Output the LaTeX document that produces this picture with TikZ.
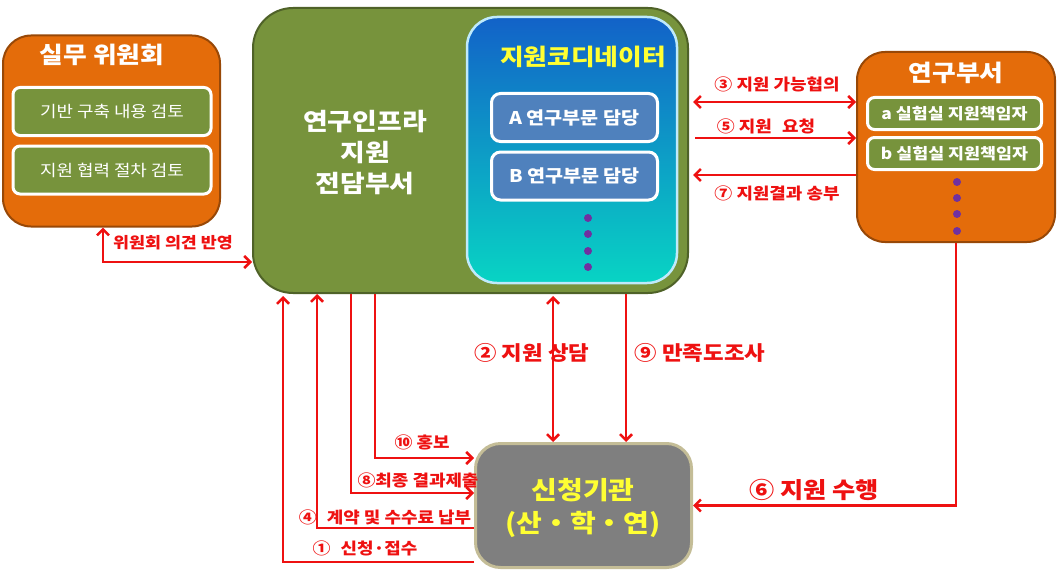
\documentclass[tikz,border=0pt]{standalone}
\usepackage{fontspec}
\setmainfont{Noto Sans CJK KR}[FakeStretch=1.12]
\usetikzlibrary{arrows.meta,calc,positioning}
\definecolor{boxOrange}{HTML}{E46C0A}
\definecolor{edgeOrange}{HTML}{984807}
\definecolor{boxGreen}{HTML}{77933C}
\definecolor{edgeGreen}{HTML}{4F6228}
\definecolor{boxSteel}{HTML}{4F81BD}
\definecolor{boxGray}{HTML}{7F7F7F}
\definecolor{edgeTan}{HTML}{C4BD97}
\definecolor{arrowRed}{HTML}{EE1111}
\definecolor{dotPurple}{HTML}{7030A0}
\definecolor{textYellow}{HTML}{FFFF33}
\definecolor{coordTop}{HTML}{1262C8}
\definecolor{coordMid}{HTML}{1EAEE6}
\definecolor{coordBottom}{HTML}{08D4C4}
\tikzset{
  >={Straight Barb[length=6pt,width=12pt]},
  outerBox/.style={draw=edgeOrange,line width=2pt,fill=boxOrange,rounded corners=28pt},
  itemBox/.style={draw=white,line width=3pt,fill=boxGreen,rounded corners=7pt,text=white},
  coordItem/.style={draw=white,line width=3pt,fill=boxSteel,rounded corners=9pt,text=white,
    font=\fontsize{17.5}{20}\selectfont\bfseries},
  titleText/.style={text=white,font=\fontsize{23}{28}\selectfont\bfseries},
  flowArrow/.style={draw=arrowRed,line width=2.5pt},
  flowLabel/.style={text=arrowRed,font=\fontsize{16}{19}\selectfont\bfseries,inner sep=1pt},
  moreDot/.style={circle,fill=dotPurple,minimum size=8pt,inner sep=0pt},
}

\begin{document}
\begin{tikzpicture}[x=1pt,y=-1pt]
\useasboundingbox (0,0) rectangle (1059,583);

% ===== Working committee =====
\node[outerBox, minimum width=217pt, minimum height=191pt] (committee) at (111.5,131) {};
\node[titleText] (committeeTitle) at (102,55) {실무 위원회};
\node[itemBox, minimum width=198pt, minimum height=48pt, font=\fontsize{16}{19}\selectfont] (reviewA) at (112,111.5) {기반 구축 내용 검토};
\node[itemBox, minimum width=198pt, minimum height=48pt, font=\fontsize{16}{19}\selectfont] (reviewB) at (112,170) {지원 협력 절차 검토};

% ===== Infrastructure support department =====
\node[draw=edgeGreen, line width=2pt, fill=boxGreen, rounded corners=40pt, minimum width=435pt, minimum height=285pt] (infraDept) at (470.5,150.5) {};
\node[text=white, align=center, font=\fontsize{24}{31}\selectfont\bfseries] (infraTitle) at (365,153) {연구인프라\\지원\\전담부서};

% ===== Coordinators =====
\node[draw=white!75!cyan, line width=2.5pt, rounded corners=30pt, top color=coordTop, middle color=coordMid, bottom color=coordBottom, minimum width=210pt, minimum height=266pt] (coordBox) at (572,150) {};
\node[text=textYellow, font=\fontsize{23}{28}\selectfont\bfseries] (coordTitle) at (583,57) {지원코디네이터};
\node[coordItem, minimum width=166pt, minimum height=48pt] (coordA) at (574.5,117.5) {A 연구부문 담당\hspace{12pt}};
\node[coordItem, minimum width=166pt, minimum height=48pt] (coordB) at (574.5,176) {B 연구부문 담당};
\foreach \y [count=\i] in {218,234,251,267} {
  \node[moreDot] (coordDot\i) at (588,\y) {};
}

% ===== Research department =====
\node[outerBox, minimum width=198pt, minimum height=190pt] (labDept) at (956,147) {};
\node[titleText] (labTitle) at (956,73) {연구부서};
\node[itemBox, minimum width=174pt, minimum height=32pt, font=\fontsize{15.5}{18}\selectfont\bfseries] (labA) at (954.5,113.5) {a 실험실 지원책임자};
\node[itemBox, minimum width=174pt, minimum height=32pt, font=\fontsize{15.5}{18}\selectfont\bfseries] (labB) at (954.5,153.5) {b 실험실 지원책임자};
\foreach \y [count=\i] in {182,198,214,231} {
  \node[moreDot] (labDot\i) at (957,\y) {};
}

% ===== Applicant =====
\node[draw=edgeTan, line width=3pt, fill=boxGray, rounded corners=25pt, minimum width=216pt, minimum height=124pt] (applicant) at (583.5,505.5) {};
\node[text=textYellow, align=center, font=\fontsize{25}{33}\selectfont\bfseries] (applicantText) at (583,508) {신청기관\\(산・학・연)};

% ===== Labels =====
\node[flowLabel, font=\fontsize{15.5}{18}\selectfont\bfseries] (lblCommittee) at (173,243) {위원회 의견 반영};
\node[flowLabel] (lbl3) at (777,84) {③ 지원 가능협의};
\node[flowLabel] (lbl5) at (766,126) {⑤ 지원\hspace{6pt} 요청};
\node[flowLabel] (lbl7) at (777,193) {⑦ 지원결과 송부};
\node[flowLabel, font=\fontsize{20}{23}\selectfont\bfseries] (lbl2) at (532,353) {② 지원 상담};
\node[flowLabel, font=\fontsize{20}{23}\selectfont\bfseries] (lbl9) at (700,353) {⑨ 만족도조사};
\node[flowLabel] (lbl10) at (422,442) {⑩ 홍보};
\node[flowLabel] (lbl8) at (418,480) {⑧최종 결과제출};
\node[flowLabel] (lbl4) at (385,517) {④\hspace{6pt} 계약 및 수수료 납부};
\node[flowLabel] (lbl1) at (365,548) {①\hspace{6pt} 신청·접수};
\node[flowLabel, font=\fontsize{22.5}{26}\selectfont\bfseries] (lbl6) at (814,490) {⑥ 지원 수행};

% ===== Connectors =====
\coordinate (xCommittee) at (103,0);
\coordinate (yCommittee) at (0,262);
\draw[flowArrow,<->] (committee.south -| xCommittee) |- (infraDept.west |- yCommittee);

\coordinate (y3) at (0,102);
\coordinate (y5) at (0,138);
\coordinate (y7) at (0,175);
\draw[flowArrow,<->,shorten <=4pt] (infraDept.east |- y3) -- (labDept.west |- y3);
\draw[flowArrow,->,shorten <=6pt] (infraDept.east |- y5) -- (labDept.west |- y5);
\draw[flowArrow,->,shorten >=4pt] (labDept.west |- y7) -- (infraDept.east |- y7);

\coordinate (x2) at (553,0);
\coordinate (x9) at (626,0);
\draw[flowArrow,<->,shorten <=2pt] (infraDept.south -| x2) -- (applicant.north -| x2);
\draw[flowArrow,->] (infraDept.south -| x9) -- (applicant.north -| x9);

\coordinate (c10) at (375,458);
\coordinate (c8) at (351,493);
\coordinate (c4) at (317,528);
\coordinate (c1) at (283,562);
\draw[flowArrow,->] (infraDept.south -| c10) |- (applicant.west |- c10);
\draw[flowArrow,->] (infraDept.south -| c8) |- (applicant.west |- c8);
\draw[flowArrow,->] (applicant.west |- c4) -| (infraDept.south -| c4);
\draw[flowArrow,->,shorten >=2pt] (applicant.west |- c1) -| (infraDept.south -| c1);

\draw[flowArrow,->] (labDept.south) |- (applicant.east);

\end{tikzpicture}
\end{document}
